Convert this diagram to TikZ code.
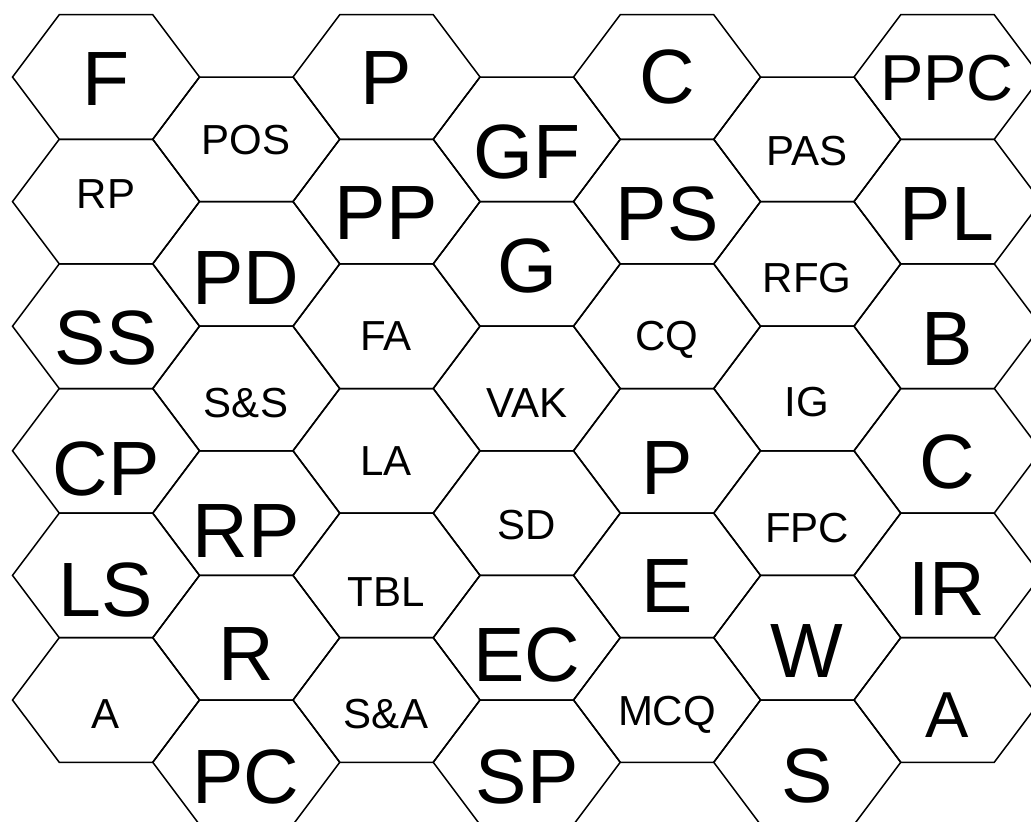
\documentclass[tikz,border=0pt]{standalone}
\usepackage{fontspec}
\setmainfont{Liberation Sans}

\tikzset{
  cell/.style={draw=black, line width=1.5pt, line join=miter},
  bigtag/.style={font=\fontsize{77}{80}\selectfont, inner sep=0pt, anchor=base},
  midtag/.style={font=\fontsize{65}{70}\selectfont, inner sep=0pt, anchor=base},
  smalltag/.style={font=\fontsize{42}{46}\selectfont, inner sep=0pt, anchor=base}
}

\begin{document}
\begin{tikzpicture}[x=1pt, y=-1pt]
  \useasboundingbox (0,0) rectangle (1031,822);
  \fill[white] (0,0) rectangle (1031,822);
  \begin{scope}
    \clip (0,0) rectangle (1031,822);
    % honeycomb
    \foreach \c in {0,...,6} {
      \foreach \r in {0,...,5} {
        \pgfmathsetmacro\cx{106+140.25*\c}
        \pgfmathsetmacro\cy{77+124.6*\r+62.3*mod(\c,2)}
        \draw[cell] (\cx-93.5,\cy) -- (\cx-46.75,\cy-62.3) -- (\cx+46.75,\cy-62.3)
          -- (\cx+93.5,\cy) -- (\cx+46.75,\cy+62.3) -- (\cx-46.75,\cy+62.3) -- cycle;
      }
    }
  \end{scope}
  % labels (x = cell centre, y = baseline)
  \foreach \x/\y/\txt/\sty [count=\i] in {
      106/105/F/bigtag, 106/208/RP/smalltag, 106/364/SS/bigtag,
      106/495/CP/bigtag, 106/616/LS/bigtag, 106/728/A/smalltag,
      246/154/POS/smalltag, 246/304/PD/bigtag, 246/417/S\&S/smalltag,
      246/557/RP/bigtag, 246/680/R/bigtag, 246/803/PC/bigtag,
      386/104/P/bigtag, 386/239/PP/bigtag, 386/350/FA/smalltag,
      386/475/LA/smalltag, 386/606/TBL/smalltag, 386/728/S\&A/smalltag,
      527/178/GF/bigtag, 527/292/G/bigtag, 527/417/VAK/smalltag,
      527/539/SD/smalltag, 527/681/EC/bigtag, 527/803/SP/bigtag,
      667/103/C/bigtag, 667/240/PS/bigtag, 667/350/CQ/smalltag,
      667/494/P/bigtag, 667/612/E/bigtag, 667/725/MCQ/smalltag,
      807/165/PAS/smalltag, 807/292/RFG/smalltag, 807/416/IG/smalltag,
      807/542/FPC/smalltag, 807/677/W/bigtag, 807/802/S/bigtag,
      947/100/PPC/midtag, 947/240/PL/bigtag, 947/365/B/bigtag,
      947/488/C/bigtag, 947/615/IR/bigtag, 947/737/A/midtag} {
    \node[\sty] (lbl\i) at (\x,\y) {\txt};
  }
\end{tikzpicture}
\end{document}
